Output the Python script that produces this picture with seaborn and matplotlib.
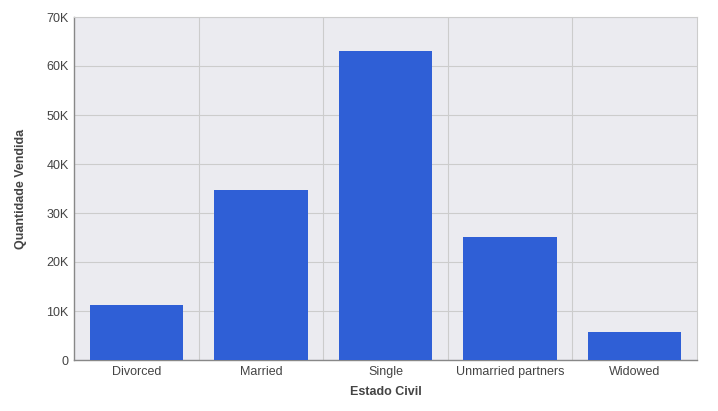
import matplotlib
matplotlib.use("Agg")
import matplotlib.pyplot as plt
import seaborn as sns
import pandas as pd
from matplotlib.ticker import FuncFormatter, MultipleLocator

# data
estado_civil = ["Divorced", "Married", "Single", "Unmarried partners", "Widowed"]
quantidade = [11200, 34700, 63100, 25100, 5700]

df = pd.DataFrame({"Estado Civil": estado_civil, "Quantidade Vendida": quantidade})

sns.set_style("darkgrid", {"axes.facecolor": "#ebebf0", "grid.color": "#cccccc"})
plt.rcParams["font.family"] = ["Liberation Sans", "DejaVu Sans"]

fig = plt.figure(figsize=(7.18, 4.11), dpi=100)
ax = fig.add_axes([74.3 / 718, 51 / 411, (697 - 74.3) / 718, (360 - 17) / 411])

sns.barplot(data=df, x="Estado Civil", y="Quantidade Vendida", color="#2f5fd6",
            saturation=1, width=0.75, linewidth=0, edgecolor="none", ax=ax, zorder=3)

ax.set_ylim(0, 70000)
ax.set_xlim(-0.5, len(estado_civil) - 0.5)
ax.yaxis.set_major_locator(MultipleLocator(10000))
ax.yaxis.set_major_formatter(FuncFormatter(lambda v, p: "0" if v == 0 else f"{int(v / 1000)}K"))

# vertical grid at category boundaries
ax.set_xticks([i + 0.5 for i in range(len(estado_civil) - 1)], minor=True)
ax.grid(False, axis="x", which="major")
ax.grid(True, axis="x", which="minor", color="#cccccc", linewidth=0.8)
ax.grid(True, axis="y", which="major", color="#cccccc", linewidth=0.8)
ax.tick_params(axis="x", which="minor", length=0)
ax.tick_params(axis="both", which="major", length=0, labelsize=9, colors="#444444", pad=4)
ax.set_axisbelow(True)

for side in ["top", "right"]:
    ax.spines[side].set_visible(True)
    ax.spines[side].set_color("#cccccc")
    ax.spines[side].set_linewidth(0.8)
for side in ["left", "bottom"]:
    ax.spines[side].set_visible(True)
    ax.spines[side].set_color("#888888")
    ax.spines[side].set_linewidth(1.0)

ax.set_xlabel("Estado Civil", fontsize=9, fontweight="bold", color="#444444", labelpad=6)
ax.set_ylabel("Quantidade Vendida", fontsize=9, fontweight="bold", color="#444444", labelpad=14)

fig.savefig("out.png", dpi=100)
